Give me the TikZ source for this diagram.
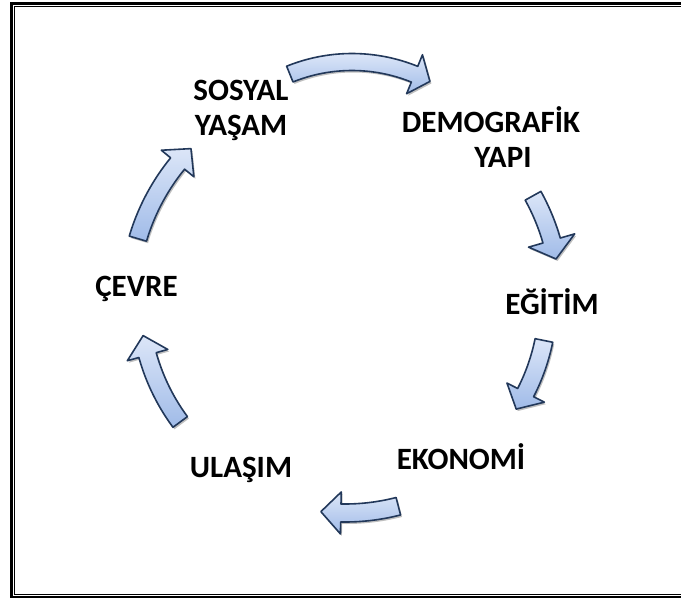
\documentclass[tikz,border=0pt]{standalone}
\usepackage{fontspec}
\setmainfont{Carlito}
\usetikzlibrary{shadows}
\definecolor{arrowline}{HTML}{22385A}
\definecolor{arrowtop}{HTML}{DCE6F8}
\definecolor{arrowbot}{HTML}{A0BBE8}
\tikzset{
  lbl/.style={font=\bfseries\fontsize{31}{35}\selectfont, align=center, inner sep=0pt},
  arrowshape/.style={draw=arrowline, line width=1.6pt, line join=round,
    top color=arrowtop, bottom color=arrowbot,
    drop shadow={shadow xshift=1.5pt, shadow yshift=-2pt, opacity=0.25, fill=black}},
}
% #1 cx, #2 cy, #3 r, #4 tail angle, #5 tip angle, #6 half body, #7 half head, #8 head length
\newcommand{\cyclearrow}[8]{%
  \pgfmathsetmacro\hb{#5-#8/#3*180/pi}%
  \path[arrowshape] plot[domain=#4:\hb,samples=40] ({#1+(#3+#6)*cos(\x)},{#2+(#3+#6)*sin(\x)})
   -- ({#1+(#3+#7)*cos(\hb)},{#2+(#3+#7)*sin(\hb)})
   -- ({#1+#3*cos(#5)},{#2+#3*sin(#5)})
   -- ({#1+(#3-#7)*cos(\hb)},{#2+(#3-#7)*sin(\hb)})
   -- plot[domain=\hb:#4,samples=40] ({#1+(#3-#6)*cos(\x)},{#2+(#3-#6)*sin(\x)})
   -- cycle;}
\begin{document}
\begin{tikzpicture}[x=1pt,y=-1pt]
\useasboundingbox (0,0) rectangle (681,603);
\fill[white] (0,0) rectangle (681,603);
% frame
\draw[line width=2.6pt] (11.5,3.4) rectangle (690,597);
\draw[line width=1.1pt] (14.6,6.5) rectangle (687,594.3);
% arrows
\cyclearrow{352}{228}{166}{-112}{-62}{8.5}{21}{17}
\cyclearrow{345}{300}{215}{-29}{-11}{9}{24}{19}
\cyclearrow{345}{300}{203}{11.5}{32.5}{9}{21}{19}
\cyclearrow{345}{300}{213}{75.5}{96.5}{9}{21}{20}
\cyclearrow{345}{300}{205}{143.5}{170}{9}{21}{20}
\cyclearrow{345}{300}{216}{196.5}{224.5}{9}{21}{20}
% labels
\node[lbl] (sosyal) at (241,110) {SOSYAL\\YAŞAM};
\node[lbl] (demo) at (491,137) {DEMOGRAFİK\\\hspace*{24pt}YAPI};
\node[lbl,anchor=base] (egitim) at (552,314) {EĞİTİM};
\node[lbl,anchor=base] (cevre) at (136.5,296) {ÇEVRE};
\node[lbl,anchor=base] (ekonomi) at (461,469) {EKONOMİ};
\node[lbl,anchor=base] (ulasim) at (241,477) {ULAŞIM};
\end{tikzpicture}
\end{document}
